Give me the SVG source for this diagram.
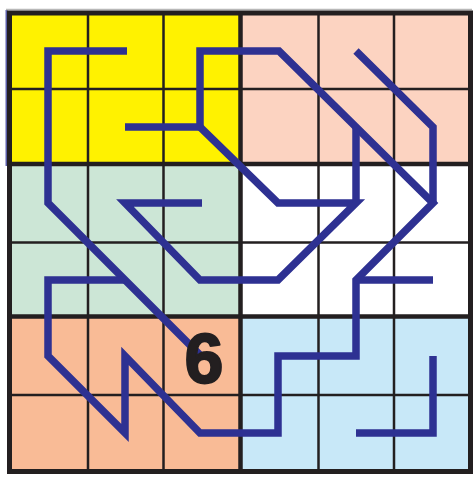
<svg xmlns="http://www.w3.org/2000/svg" width="476" height="477" viewBox="0 0 476 477">
<style>
.grid{stroke:#231f20;stroke-width:2.5;fill:none}
.block{stroke:#231f20;stroke-width:4.5;fill:none}
.path{stroke:#2e3192;stroke-width:7.5;fill:none;stroke-linejoin:miter;stroke-linecap:butt}
.num{font-family:"Liberation Sans",Arial,sans-serif;font-weight:bold;font-size:70px;fill:#231f20;stroke:#231f20;stroke-width:2;stroke-linejoin:round}
</style>
<rect width="476" height="477" fill="#ffffff"/>
<g id="blocks">
<rect x="9.5" y="13" width="231" height="151" fill="#fff200"/>
<rect x="240.5" y="13" width="230" height="151" fill="#fcd3c1"/>
<rect x="9.5" y="164" width="231" height="152.5" fill="#cce6d6"/>
<rect x="240.5" y="164" width="230" height="152.5" fill="#ffffff"/>
<rect x="9.5" y="316.5" width="231" height="155" fill="#f9bb96"/>
<rect x="240.5" y="316.5" width="230" height="155" fill="#c8e8f8"/>
</g>
<line x1="6.5" y1="10" x2="6.5" y2="166" stroke="#5a5ea8" stroke-width="2"/>
<line x1="6" y1="9.5" x2="472" y2="9.5" stroke="#b8b8b8" stroke-width="1.5"/>
<g id="grid">
<path class="grid" d="M88 13V471.5M163.5 13V471.5M318.5 13V471.5M394 13V471.5M9.5 89H470.5M9.5 242.5H470.5M9.5 395H470.5"/>
<path class="block" d="M240.5 13V471.5M9.5 164H470.5M9.5 316.5H470.5"/>
<rect x="9.5" y="13" width="461" height="458.5" fill="none" stroke="#231f20" stroke-width="5"/>
</g>
<g id="connectors">
<polyline class="path" points="127,51 48,51 48,203 201,356"/>
<polyline class="path" points="125,127 200,127 200,51 279,51 433,203 356,280 356,356 278,356 278,433 200,433 125,356 125,433 48,356 48,280 125,280"/>
<polyline class="path" points="200,127 278,203 356,203 278,280 200,280 125,203 202,203"/>
<polyline class="path" points="356,203 356,128"/>
<polyline class="path" points="356,51 433,127 433,203"/>
<polyline class="path" points="356,280 433,280"/>
<polyline class="path" points="433,356 433,433 356,433"/>
</g>
<g id="label">
<text class="num" x="204" y="383" text-anchor="middle">6</text>
</g>
</svg>
